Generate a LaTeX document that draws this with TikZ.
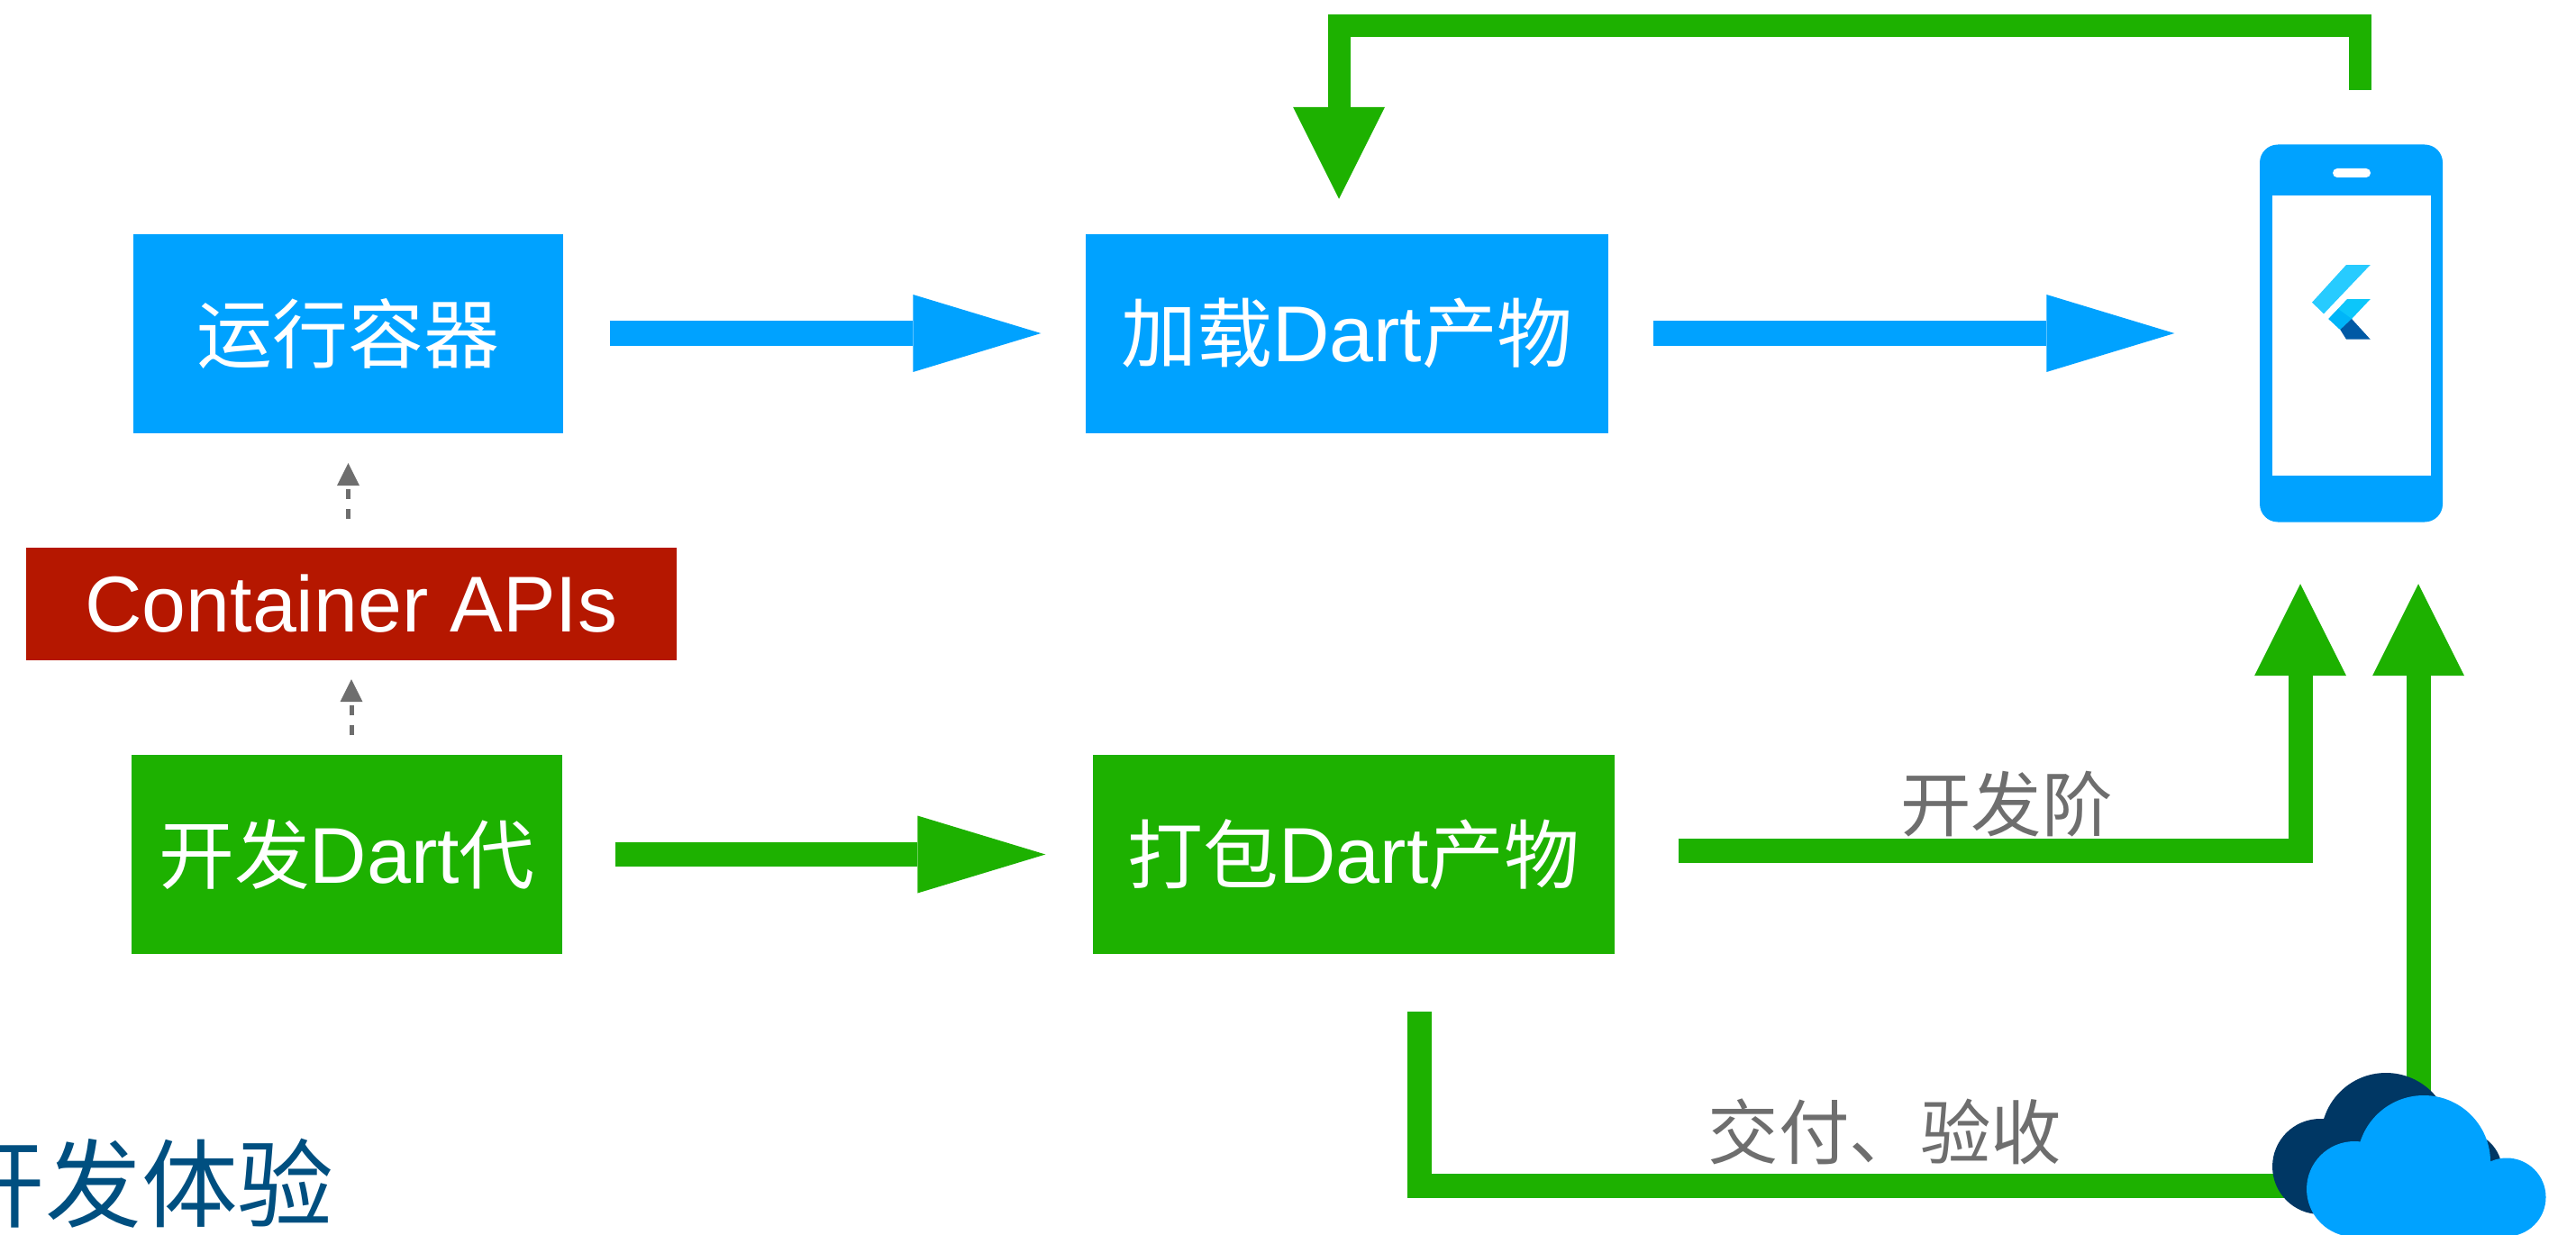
\documentclass[tikz,border=0pt]{standalone}
\usepackage{fontspec}
\setmainfont{Liberation Sans}
\newfontfamily\cjk[Scale=0.955]{Noto Sans CJK SC}
\usetikzlibrary{arrows.meta}
\definecolor{appblue}{HTML}{00A2FF}
\definecolor{appgreen}{HTML}{1DB100}
\definecolor{appred}{HTML}{B51700}
\definecolor{appgrey}{HTML}{6E6E6E}
\definecolor{appnavy}{HTML}{003764}
\definecolor{apptitle}{HTML}{004F80}
\definecolor{logotop}{HTML}{27CBFF}
\definecolor{logolight}{HTML}{0CC6FA}
\definecolor{logomid}{HTML}{00B5F8}
\definecolor{logodark}{HTML}{0059A5}
\tikzset{
	box/.style={inner sep=0pt, text=white, minimum height=2.21cm, font=\fontsize{25}{30}\selectfont},
	bluebox/.style={box, fill=appblue},
	greenbox/.style={box, fill=appgreen},
	redbox/.style={box, fill=appred, minimum width=7.22cm, minimum height=1.25cm},
	greylabel/.style={inner sep=0pt, text=appgrey, font=\fontsize{23.4}{28}\selectfont},
	bluearrow/.style={draw=appblue, line width=0.28cm, -{Triangle[length=1.42cm,width=0.86cm,line width=0pt]}},
	greenarrow/.style={draw=appgreen, line width=0.27cm, -{Triangle[length=1.42cm,width=0.86cm,line width=0pt]}},
	upgreen/.style={draw=appgreen, line width=0.27cm, -{Triangle[length=1.02cm,width=1.02cm,line width=0pt]}},
	dasharrow/.style={draw=appgrey, line width=0.05cm, dash pattern=on 0.11cm off 0.11cm, -{Triangle[length=0.25cm,width=0.25cm,line width=0pt]}},
}
\begin{document}
\begin{tikzpicture}
	\useasboundingbox (0,0) rectangle (28.59,13.7);

	\draw (3.865,10) node[bluebox, minimum width=4.77cm] (run) {\cjk 运行容器};
	\draw (14.95,10) node[bluebox, minimum width=5.8cm] (load) {{\cjk 加载}Dart{\cjk 产物}};
	\draw (3.9,7) node[redbox] (api) {Container APIs};
	\draw (3.85,4.215) node[greenbox, minimum width=4.78cm] (dev) {{\cjk 开发}Dart{\cjk 代}};
	\draw (15.025,4.215) node[greenbox, minimum width=5.79cm] (pack) {{\cjk 打包}Dart{\cjk 产物}};

	\draw (26.095,10) node[fill=appblue, rounded corners=0.2cm, inner sep=0pt, minimum width=2.03cm, minimum height=4.19cm] (phone) {};
	\fill[white] (25.22,8.42) rectangle (26.98,11.53);
	\fill[white, rounded corners=0.05cm] (25.89,11.73) rectangle (26.31,11.83);

	\fill[logotop] (26.04,10.76) -- (26.307,10.76) -- (25.79,10.217) -- (25.66,10.343) -- cycle;
	\fill[logolight] (26.05,10.38) -- (26.307,10.38) -- (26.10,10.16) -- (25.973,10.04) -- (25.843,10.16) -- cycle;
	\fill[logomid] (25.843,10.16) -- (25.95,10.27) -- (26.10,10.16) -- (25.973,10.04) -- cycle;
	\fill[logodark] (26.10,10.16) -- (26.307,9.933) -- (26.04,9.933) -- (25.973,10.04) -- cycle;

	\coordinate (cloud) at (26.84,0.54);
	\coordinate (deliver) at (15.75,2.47);
	\coordinate (topbend) at (20,13.415);

	\draw[bluearrow, shorten <=0.51cm, shorten >=0.49cm] (run.east) -- (load.west);
	\draw[bluearrow, shorten <=0.49cm, shorten >=0.94cm] (load.east) -- (phone.west);
	\draw[greenarrow, shorten <=0.58cm, shorten >=0.52cm] (dev.east) -- (pack.west);

	\draw[dasharrow, shorten <=0.31cm, shorten >=0.33cm] (run.south |- api.north) -- (run.south);
	\draw[dasharrow, shorten <=0.21cm, shorten >=0.21cm] (api.south |- dev.north) -- (api.south);

	\draw[upgreen, shorten <=0.7cm, shorten >=0.68cm] ([yshift=0.045cm]pack.east) -| ([xshift=-0.565cm]phone.south);
	\draw[draw=appgreen, line width=0.27cm] (deliver) |- (cloud);
	\draw[upgreen, shorten >=0.68cm] (cloud) -- (cloud |- phone.south);
	\draw[upgreen, line width=0.25cm, shorten <=0.6cm, shorten >=0.38cm] ([xshift=0.095cm]phone.north) |- (topbend) -| ([xshift=-0.09cm]load.north);

	\draw (22.27,4.77) node[greylabel] (devstage) {\cjk 开发阶};
	\draw (20.92,1.14) node[greylabel] (delivery) {\cjk 交付、验收};
	\draw (1.57,0.56) node[inner sep=0pt, text=apptitle, font=\fontsize{31.8}{36}\selectfont] (title) {\cjk 开发体验};

	\fill[appnavy] (25.75,0.75) circle (0.53);
	\fill[appnavy] (26.48,1.07) circle (0.72);
	\fill[appnavy] (27.33,0.70) circle (0.44);
	\fill[appblue] (26.13,0.50) circle (0.53);
	\fill[appblue] (26.90,0.80) circle (0.74);
	\fill[appblue] (27.82,0.41) circle (0.435);
	\fill[appblue] (26.13,-0.1) rectangle (27.82,0.6);
\end{tikzpicture}
\end{document}
